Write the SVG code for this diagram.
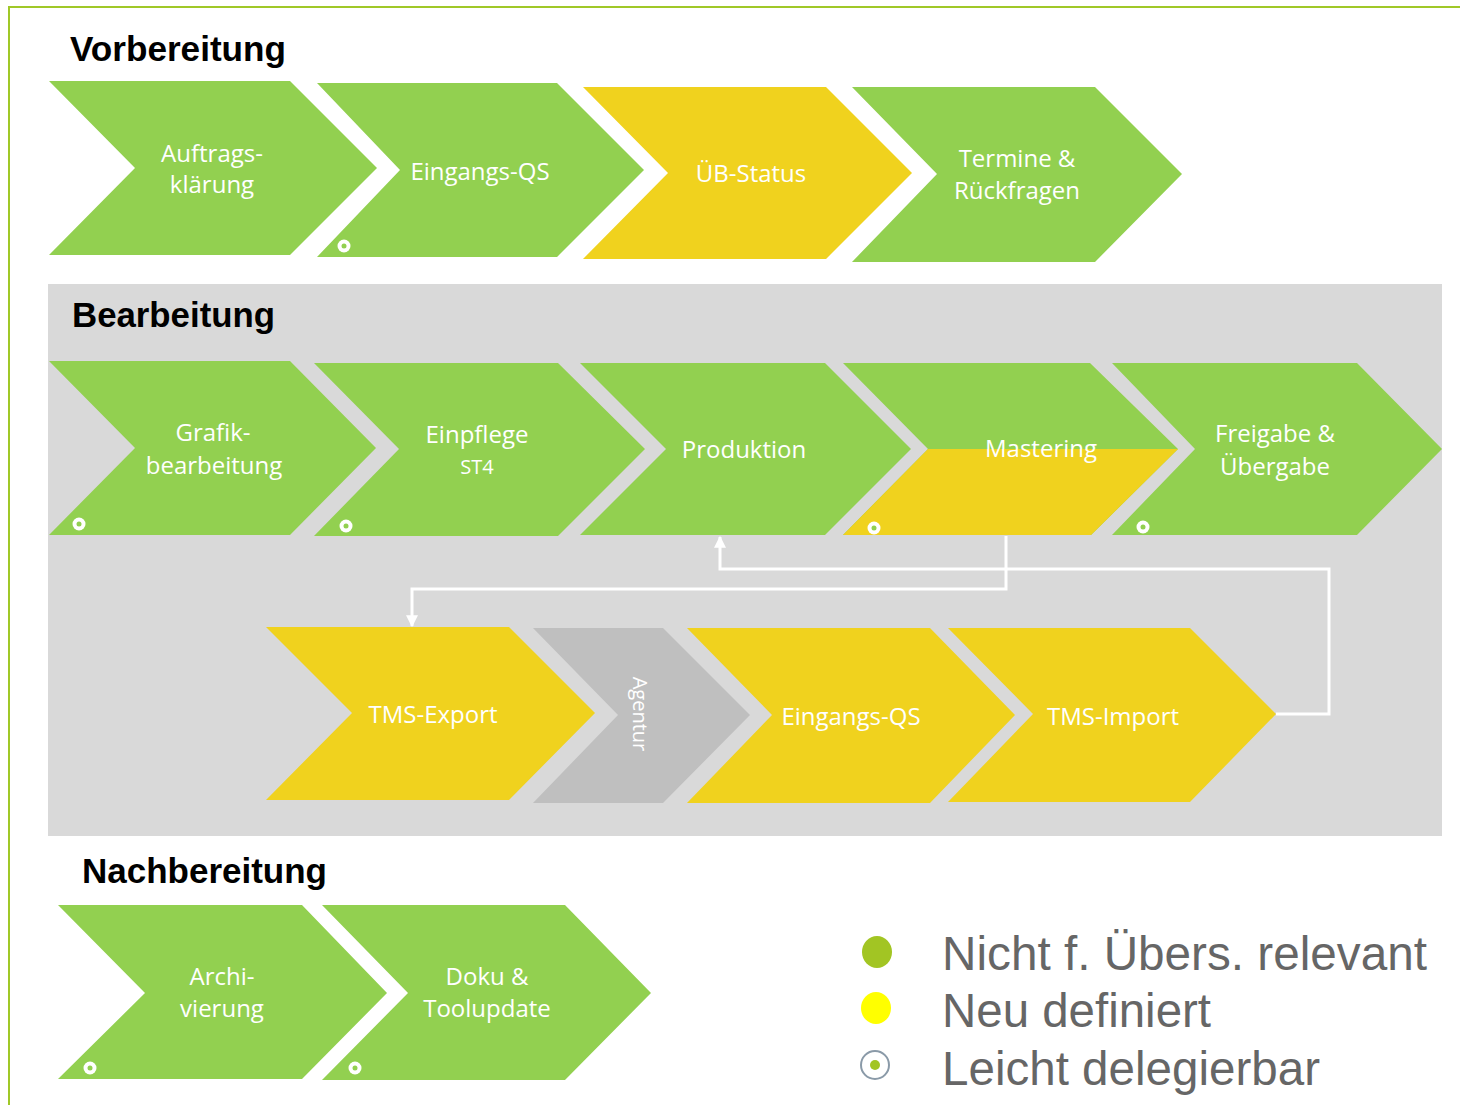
<svg xmlns="http://www.w3.org/2000/svg" width="1460" height="1105" viewBox="0 0 1460 1105">
<style>
.g{fill:#92d050}
.y{fill:#f0d21e}
.a{fill:#bfbfbf}
.t{font-family:"Open Sans","Noto Sans",sans-serif;font-size:24px;fill:#ffffff;text-anchor:middle}
.s{font-size:20px}
.h{font-family:"Liberation Sans",Arial,sans-serif;font-weight:bold;font-size:35px;fill:#000000}
.l{font-family:"Liberation Sans",Arial,sans-serif;font-size:48px;fill:#666666}
.c{stroke:#ffffff;stroke-width:3;fill:none}
</style>
<defs>
<g id="dot"><circle r="6.5" fill="#ffffff"/><circle r="2.5" fill="#92d050"/></g>
<marker id="arr" viewBox="0 0 10 10" refX="9" refY="5" markerWidth="4" markerHeight="4.5" orient="auto" markerUnits="strokeWidth"><path d="M0,0 L10,5 L0,10 z" fill="#ffffff"/></marker>
</defs>
<rect width="1460" height="1105" fill="#ffffff"/>
<path d="M9,1105 V7 H1460" fill="none" stroke="#a0c828" stroke-width="2"/>
<rect x="48" y="284" width="1394" height="552" fill="#d9d9d9"/>

<text class="h" x="70" y="61" textLength="216" lengthAdjust="spacingAndGlyphs">Vorbereitung</text>
<text class="h" x="72" y="327" textLength="203" lengthAdjust="spacingAndGlyphs">Bearbeitung</text>
<text class="h" x="82" y="883" textLength="245" lengthAdjust="spacingAndGlyphs">Nachbereitung</text>

<g id="auftrag"><polygon class="g" points="49,81 290,81 377,168 290,255 49,255 135,168"/><text class="t" x="212" y="162">Auftrags-</text><text class="t" x="212" y="193">klärung</text></g>
<g id="eingangsqs1"><polygon class="g" points="317,83 557,83 644,170 557,257 317,257 400,170"/><text class="t" x="480" y="180">Eingangs-QS</text><use href="#dot" x="344" y="246"/></g>
<g id="uebstatus"><polygon class="y" points="583,87 826,87 912,173 826,259 583,259 668,173"/><text class="t" x="751" y="182">ÜB-Status</text></g>
<g id="termine"><polygon class="g" points="852,87 1095,87 1182,174 1095,262 852,262 937,174"/><text class="t" x="1017" y="167">Termine &amp;</text><text class="t" x="1017" y="199">Rückfragen</text></g>

<g id="grafik"><polygon class="g" points="49,361 290,361 376,448 290,535 49,535 135,448"/><text class="t" x="213" y="441">Grafik-</text><text class="t" x="214" y="474">bearbeitung</text><use href="#dot" x="79" y="524"/></g>
<g id="einpflege"><polygon class="g" points="314,363 558,363 645,449 558,536 314,536 399,449"/><text class="t" x="477" y="443">Einpflege</text><text class="t s" x="477" y="474">ST4</text><use href="#dot" x="346" y="526"/></g>
<g id="produktion"><polygon class="g" points="580,363 825,363 911,449 825,535 580,535 666,449"/><text class="t" x="744" y="458">Produktion</text></g>
<g id="mastering"><polygon class="g" points="843,363 1090,363 1178,449 1091,535 843,535 928,449"/><polygon class="y" points="928,449 1178,449 1091,535 843,535"/><text class="t" x="1041" y="457">Mastering</text><use href="#dot" x="874" y="528"/></g>
<g id="freigabe"><polygon class="g" points="1112,363 1357,363 1442,449 1357,535 1112,535 1195,449"/><text class="t" x="1275" y="442">Freigabe &amp;</text><text class="t" x="1275" y="475">Übergabe</text><use href="#dot" x="1143" y="527"/></g>

<g id="tmsexport"><polygon class="y" points="266,627 509,627 595,713 509,800 266,800 352,713"/><text class="t" x="433" y="723">TMS-Export</text></g>
<g id="agentur"><polygon class="a" points="533,628 663,628 750,715 663,803 533,803 618,715"/><text class="t s" transform="translate(633,714) rotate(90)" x="0" y="0">Agentur</text></g>
<g id="eingangsqs2"><polygon class="y" points="687,628 930,628 1015,715 930,803 687,803 772,715"/><text class="t" x="851" y="725">Eingangs-QS</text></g>
<g id="tmsimport"><polygon class="y" points="948,628 1190,628 1276,714 1190,802 948,802 1033,714"/><text class="t" x="1113" y="725">TMS-Import</text></g>

<g id="archi"><polygon class="g" points="58,905 302,905 387,993 302,1079 58,1079 145,993"/><text class="t" x="222" y="985">Archi-</text><text class="t" x="222" y="1017">vierung</text><use href="#dot" x="90" y="1068"/></g>
<g id="doku"><polygon class="g" points="322,905 565,905 651,993 565,1080 322,1080 408,993"/><text class="t" x="487" y="985">Doku &amp;</text><text class="t" x="487" y="1017">Toolupdate</text><use href="#dot" x="355" y="1068"/></g>

<g id="connectors">
<path class="c" d="M1006,536 V589 H412 V626" marker-end="url(#arr)"/>
<path class="c" d="M1276,714 H1329 V569 H720 V537" marker-end="url(#arr)"/>
</g>

<g id="legend">
<ellipse cx="877" cy="952" rx="15" ry="16" fill="#a2c523"/>
<ellipse cx="876" cy="1008" rx="15" ry="16" fill="#ffff00"/>
<circle cx="875" cy="1065" r="14" fill="#ffffff" stroke="#8a9aa8" stroke-width="2"/>
<circle cx="875" cy="1065" r="5" fill="#a2c523"/>
<text class="l" x="942" y="970" textLength="485" lengthAdjust="spacingAndGlyphs">Nicht f. Übers. relevant</text>
<text class="l" x="942" y="1027" textLength="269" lengthAdjust="spacingAndGlyphs">Neu definiert</text>
<text class="l" x="942" y="1085" textLength="378" lengthAdjust="spacingAndGlyphs">Leicht delegierbar</text>
</g>
</svg>
